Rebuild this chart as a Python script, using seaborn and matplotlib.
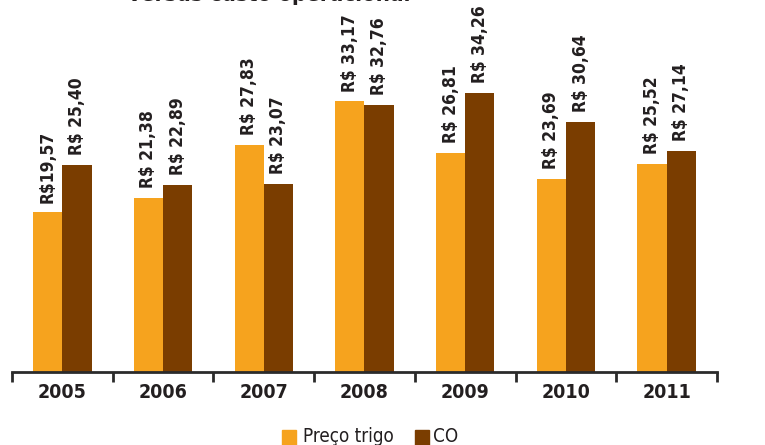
import matplotlib
matplotlib.use("Agg")
import matplotlib.pyplot as plt
from matplotlib.patches import Rectangle
import seaborn as sns
import pandas as pd

# Values in R$
years = ["2005", "2006", "2007", "2008", "2009", "2010", "2011"]
preco_trigo = [19.57, 21.38, 27.83, 33.17, 26.81, 23.69, 25.52]
custo_operacional = [25.40, 22.89, 23.07, 32.76, 34.26, 30.64, 27.14]
series_names = ["Preço trigo", "CO"]
label_prefix = {"Preço trigo": ["R$", "R$ ", "R$ ", "R$ ", "R$ ", "R$ ", "R$ "],
                "CO": ["R$ "] * 7}

ORANGE = "#F6A31E"
BROWN = "#7A3D00"
DARK = "#231F20"

df = pd.DataFrame({
    "ano": years * 2,
    "serie": [series_names[0]] * len(years) + [series_names[1]] * len(years),
    "valor": preco_trigo + custo_operacional,
})

sns.set_theme(style="white")
plt.rcParams["font.family"] = ["DejaVu Sans"]

fig = plt.figure(figsize=(7.65, 4.45), dpi=100)
ax = fig.add_axes([12 / 765, 73 / 445, 705 / 765, 372 / 445])

sns.barplot(data=df, x="ano", y="valor", hue="serie", order=years,
            hue_order=series_names, palette=[ORANGE, BROWN],
            width=0.58, gap=0, saturation=1, errorbar=None,
            linewidth=0, legend=False, ax=ax)

ax.set_xlim(-0.5, len(years) - 0.5)
ax.set_ylim(0, 45.6)

FS = dict(fontstretch="condensed", fontweight="bold", color=DARK)

# value labels, rotated, sitting on top of each bar
for cont, name in zip(ax.containers, series_names):
    vals = preco_trigo if name == series_names[0] else custo_operacional
    for bar, v, pre in zip(cont, vals, label_prefix[name]):
        txt = pre + f"{v:.2f}".replace(".", ",")
        ax.text(bar.get_x() + bar.get_width() / 2, v + 1.2, txt,
                rotation=90, ha="center", va="bottom", fontsize=12.5,
                clip_on=False, **FS)

for s in ["top", "right", "left"]:
    ax.spines[s].set_visible(False)
ax.spines["bottom"].set_color("#2b2b2b")
ax.spines["bottom"].set_linewidth(2)
ax.set_yticks([])
ax.set_xlabel("")
ax.set_ylabel("")

ax.set_xticks(range(len(years)))
ax.set_xticklabels(years, fontsize=14, **FS)
ax.tick_params(axis="x", which="major", length=0, pad=8)
ax.set_xticks([i - 0.5 for i in range(len(years) + 1)], minor=True)
ax.tick_params(axis="x", which="minor", length=7, width=2,
               color="#2b2b2b", direction="out", bottom=True)

# title, mostly above the top edge
fig.text(128 / 765, 1 - 0.8 / 445, "versus custo operacional",
         ha="left", va="baseline", fontsize=16, **FS)

# legend along the bottom
fig.add_artist(Rectangle((282 / 765, 0), 14 / 765, 15 / 445,
                         transform=fig.transFigure, color=ORANGE))
fig.text(303 / 765, 3 / 445, series_names[0], ha="left", va="baseline",
         fontsize=13.5, fontstretch="condensed", color=DARK)
fig.add_artist(Rectangle((415 / 765, 0), 14 / 765, 15 / 445,
                         transform=fig.transFigure, color=BROWN))
fig.text(433 / 765, 3 / 445, series_names[1], ha="left", va="baseline",
         fontsize=13.5, fontstretch="condensed", color=DARK)

fig.savefig("out.png", dpi=100)
